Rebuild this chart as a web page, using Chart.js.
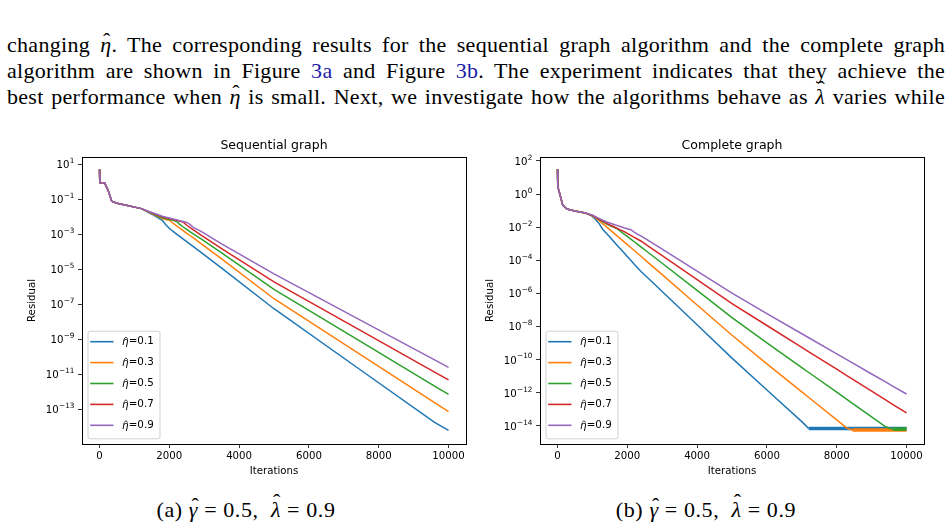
<!DOCTYPE html>
<html>
<head>
<meta charset="utf-8">
<script src="https://cdn.jsdelivr.net/npm/chart.js@4.4.1/dist/chart.umd.min.js"></script>
<style>
  html, body { margin: 0; padding: 0; background: #fff; }
  body { width: 952px; height: 527px; position: relative; overflow: hidden; font-family: "Liberation Serif", "DejaVu Serif", serif; color: #000; }
  .line { position: absolute; left: 7px; width: 938px; font-size: 22px; letter-spacing: 0.3px; line-height: 26px; text-align: justify; text-align-last: justify; white-space: nowrap; }
  .ref { color: #1c1ca8; }
  .m { font-style: italic; position: relative; display: inline-block; }
  .m::after { content: 'ˆ'; position: absolute; left: 0.12em; top: -0.2em; font-style: normal; }
  .m.tall::after { left: 0.1em; top: -0.36em; }
  .fig { position: absolute; top: 130px; width: 460px; height: 350px; }
  .caption { position: absolute; top: 497px; width: 300px; font-size: 22px; letter-spacing: 0.6px; line-height: 26px; text-align: center; white-space: nowrap; }
</style>
</head>
<body>

<div class="line" style="top:32px">changing <span class="m">η</span>. The corresponding results for the sequential graph algorithm and the complete graph</div>
<div class="line" style="top:58px">algorithm are shown in Figure <span class="ref">3a</span> and Figure <span class="ref">3b</span>. The experiment indicates that they achieve the</div>
<div class="line" style="top:84px">best performance when <span class="m">η</span> is small. Next, we investigate how the algorithms behave as <span class="m tall">λ</span> varies while</div>

<div class="fig" style="left:20px"><canvas id="seq-chart" width="460" height="350"></canvas></div>
<div class="fig" style="left:478px"><canvas id="cmp-chart" width="460" height="350"></canvas></div>

<div class="caption" style="left:96px">(a) <span class="m">γ</span> = 0.5,&nbsp; <span class="m tall">λ</span> = 0.9</div>
<div class="caption" style="left:556px">(b) <span class="m">γ</span> = 0.5,&nbsp; <span class="m tall">λ</span> = 0.9</div>

<script>
// ── DATA (residuals, stored as log10) ──────────────────────────
const etaLabels = ['η=0.1', 'η=0.3', 'η=0.5', 'η=0.7', 'η=0.9'];
const colors    = ['#1f77b4', '#ff7f0e', '#2ca02c', '#d62728', '#9467bd'];

const xTicks = [0, 2000, 4000, 6000, 8000, 10000];
const xRange = [-500, 10500];

// Sequential graph
const seqIters = [0, 10, 150, 250, 350, 500, 800, 1200, 1500, 1800, 1900, 2000, 2100, 2200, 2300, 2400, 2500, 2600, 2700, 2900, 3500, 5000, 7500, 9600, 10000];
const seqEta01 = [0.7, -0.05, -0.07, -0.5, -1.1, -1.22, -1.35, -1.53, -1.85, -2.2, -2.45, -2.65, -2.82, -2.97, -3.12, -3.27, -3.42, -3.57, -3.72, -4.02, -4.93, -7.25, -10.78, -13.74, -14.2];
const seqEta03 = [0.7, -0.05, -0.07, -0.5, -1.1, -1.22, -1.35, -1.53, -1.82, -2.1, -2.15, -2.19, -2.35, -2.5, -2.65, -2.79, -2.94, -3.08, -3.22, -3.51, -4.4, -6.68, -9.9, -12.61, -13.13];
const seqEta05 = [0.7, -0.05, -0.07, -0.5, -1.1, -1.22, -1.35, -1.53, -1.79, -2.05, -2.1, -2.15, -2.2, -2.25, -2.43, -2.58, -2.72, -2.86, -2.99, -3.25, -4.06, -6.15, -9.15, -11.67, -12.15];
const seqEta07 = [0.7, -0.05, -0.07, -0.5, -1.1, -1.22, -1.35, -1.53, -1.77, -2.0, -2.05, -2.1, -2.15, -2.2, -2.25, -2.3, -2.48, -2.62, -2.76, -3.03, -3.82, -5.72, -8.52, -10.87, -11.32];
const seqEta09 = [0.7, -0.05, -0.07, -0.5, -1.1, -1.22, -1.35, -1.53, -1.75, -1.97, -2.02, -2.07, -2.12, -2.17, -2.22, -2.27, -2.32, -2.45, -2.62, -2.82, -3.55, -5.26, -7.93, -10.17, -10.6];
const seqYTicks = [1, -1, -3, -5, -7, -9, -11, -13];
const seqYRange = [-14.98, 1.42];

// Complete graph
const cmpIters = [0, 10, 50, 150, 270, 500, 800, 1000, 1100, 1200, 1300, 1400, 1500, 1600, 1700, 1800, 1900, 2000, 2100, 2200, 2300, 2400, 2600, 3000, 4000, 5000, 6000, 7000, 7200, 8000, 8300, 8450, 9000, 9400, 9600, 10000];
const cmpEta01 = [1.5, 0.45, 0.14, -0.66, -0.9, -1.02, -1.14, -1.35, -1.55, -1.8, -2.14, -2.37, -2.6, -2.84, -3.07, -3.3, -3.53, -3.77, -4.0, -4.24, -4.47, -4.69, -5.09, -5.89, -7.9, -9.91, -11.84, -13.75, -14.17, -14.17, -14.17, -14.17, -14.17, -14.17, -14.17, -14.17];
const cmpEta03 = [1.5, 0.45, 0.14, -0.66, -0.9, -1.02, -1.14, -1.32, -1.45, -1.62, -1.8, -1.97, -2.15, -2.33, -2.51, -2.69, -2.87, -3.05, -3.23, -3.41, -3.59, -3.77, -4.14, -4.87, -6.7, -8.53, -10.26, -11.95, -12.29, -13.64, -14.15, -14.25, -14.25, -14.25, -14.25, -14.25];
const cmpEta05 = [1.5, 0.45, 0.14, -0.66, -0.9, -1.02, -1.14, -1.3, -1.42, -1.55, -1.68, -1.8, -1.9, -1.99, -2.08, -2.24, -2.4, -2.56, -2.72, -2.88, -3.04, -3.2, -3.53, -4.18, -5.82, -7.47, -8.99, -10.48, -10.78, -11.97, -12.42, -12.64, -13.46, -14.06, -14.2, -14.2];
const cmpEta07 = [1.5, 0.45, 0.14, -0.66, -0.9, -1.02, -1.14, -1.28, -1.4, -1.52, -1.64, -1.76, -1.86, -1.96, -2.06, -2.16, -2.25, -2.38, -2.5, -2.62, -2.73, -2.85, -3.14, -3.72, -5.17, -6.62, -7.94, -9.26, -9.53, -10.58, -10.98, -11.18, -11.9, -12.43, -12.7, -13.22];
const cmpEta09 = [1.5, 0.45, 0.14, -0.66, -0.9, -1.02, -1.14, -1.27, -1.38, -1.48, -1.58, -1.67, -1.75, -1.82, -1.89, -1.96, -2.03, -2.09, -2.15, -2.3, -2.43, -2.54, -2.8, -3.33, -4.66, -5.98, -7.22, -8.44, -8.68, -9.65, -10.02, -10.2, -10.87, -11.35, -11.6, -12.08];
const cmpFloorStart = [7200, 8450, 9600, null, null];   // noisy floor at machine precision
const cmpYTicks = [2, 0, -2, -4, -6, -8, -10, -12, -14];
const cmpYRange = [-15.1, 2.24];

// ── HELPERS ────────────────────────────────────────────────
const FONT = 'DejaVu Sans';
const TICK_SIZE = 10.2;

// black frame round the plot area, like matplotlib spines
const framePlugin = {
  id: 'frame',
  afterDatasetsDraw(chart) {
    const { ctx, chartArea: a } = chart;
    ctx.save();
    ctx.strokeStyle = '#000';
    ctx.lineWidth = 1;
    ctx.strokeRect(Math.round(a.left) + 0.5, Math.round(a.top) + 0.5, Math.round(a.right - a.left), Math.round(a.bottom - a.top));
    ctx.restore();
  }
};

// y tick labels as 10 with a raised exponent (mathtext look)
const powTicksPlugin = {
  id: 'powTicks',
  afterDraw(chart) {
    const { ctx, chartArea: a } = chart;
    const y = chart.scales.y;
    ctx.save();
    ctx.fillStyle = '#000';
    ctx.textAlign = 'right';
    ctx.textBaseline = 'middle';
    y.ticks.forEach(t => {
      const py = y.getPixelForValue(t.value);
      const exp = String(Math.round(Math.log10(t.value))).replace('-', '−');
      const right = a.left - 7.5;
      ctx.font = `7.3px ${FONT}`;
      ctx.fillText(exp, right, py - 3);
      const ew = ctx.measureText(exp).width;
      ctx.font = `${TICK_SIZE}px ${FONT}`;
      ctx.fillText('10', right - ew - 0.3, py + 1.3);
    });
    ctx.restore();
  }
};

// matplotlib-like legend in the lower left corner
const legendPlugin = {
  id: 'mplLegend',
  afterDraw(chart) {
    const { ctx, chartArea: a } = chart;
    const sets = chart.data.datasets;
    const boxW = 72, rowH = 20.9, boxH = 107.6;
    const x0 = a.left + 5.5, y0 = a.bottom - 5.7 - boxH;
    ctx.save();
    ctx.fillStyle = 'rgba(255,255,255,0.8)';
    ctx.strokeStyle = '#d0d0d0';
    ctx.lineWidth = 1;
    ctx.beginPath();
    ctx.roundRect(x0 + 0.5, y0 + 0.5, boxW, boxH, 2);
    ctx.fill();
    ctx.stroke();
    sets.forEach((ds, i) => {
      const cy = y0 + 11 + i * rowH;
      ctx.strokeStyle = ds.borderColor;
      ctx.lineWidth = 1.6;
      ctx.beginPath();
      ctx.moveTo(x0 + 2.7, cy);
      ctx.lineTo(x0 + 26, cy);
      ctx.stroke();

      const tx = x0 + 34.4;
      const eta = ds.label.slice(0, 1), rest = ds.label.slice(1);
      ctx.fillStyle = '#000';
      ctx.textBaseline = 'middle';
      ctx.textAlign = 'left';
      ctx.font = `italic 10.3px ${FONT}`;
      ctx.fillText(eta, tx, cy + 1);
      const w = ctx.measureText(eta).width;
      // hat over eta
      const hx = tx + w * 0.62, hy = cy - 4.2;
      ctx.strokeStyle = '#000';
      ctx.lineWidth = 0.8;
      ctx.beginPath();
      ctx.moveTo(hx - 1.9, hy + 1.4);
      ctx.lineTo(hx, hy - 0.4);
      ctx.lineTo(hx + 1.9, hy + 1.4);
      ctx.stroke();
      ctx.font = `10.3px ${FONT}`;
      ctx.fillText(rest, tx + w + 0.3, cy);
    });
    ctx.restore();
  }
};

function makeChart(canvasId, title, iters, series, yTicks, yRange, floorStart) {
  const datasets = series.map((vals, i) => ({
    label: etaLabels[i],
    data: iters.map((x, j) => ({ x, y: 10 ** vals[j] })),
    borderColor: colors[i],
    backgroundColor: colors[i],
    borderWidth: 1.5,
    pointRadius: 0,
    tension: 0,
    order: series.length - i,
    segment: {
      borderWidth: ctx => (floorStart && floorStart[i] !== null && ctx.p0.parsed.x >= floorStart[i]) ? 3.5 : 1.5
    }
  }));

  return new Chart(document.getElementById(canvasId), {
    type: 'line',
    data: { datasets },
    plugins: [framePlugin, powTicksPlugin, legendPlugin],
    options: {
      responsive: false,
      animation: false,
      events: [],
      layout: { padding: { left: 0, right: 14, top: 0, bottom: 0 } },
      plugins: {
        legend: { display: false },
        tooltip: { enabled: false },
        title: {
          display: true,
          text: title,
          fullSize: false,
          color: '#000',
          font: { family: FONT, size: 12.5, weight: 'normal' },
          padding: { top: 8, bottom: 4 }
        }
      },
      scales: {
        x: {
          type: 'linear',
          min: xRange[0],
          max: xRange[1],
          afterFit: s => { s.height = 36; },
          afterBuildTicks: s => { s.ticks = xTicks.map(v => ({ value: v })); },
          grid: { display: true, drawOnChartArea: false, drawTicks: true, tickLength: 4, color: '#000', lineWidth: 0.8 },
          border: { display: false },
          ticks: {
            color: '#000', padding: 2, maxRotation: 0, autoSkip: false,
            font: { family: FONT, size: TICK_SIZE },
            callback: v => String(v)
          },
          title: { display: true, text: 'Iterations', color: '#000', font: { family: FONT, size: TICK_SIZE }, padding: { top: 0, bottom: 3 } }
        },
        y: {
          type: 'logarithmic',
          min: 10 ** yRange[0],
          max: 10 ** yRange[1],
          afterFit: s => { s.width = 62; },
          afterBuildTicks: s => { s.ticks = yTicks.map(e => ({ value: 10 ** e })); },
          grid: { display: true, drawOnChartArea: false, drawTicks: true, tickLength: 4, color: '#000', lineWidth: 0.8 },
          border: { display: false },
          ticks: { display: false, autoSkip: false },
          title: { display: true, text: 'Residual', color: '#000', font: { family: FONT, size: TICK_SIZE }, padding: { top: 6, bottom: 0 } }
        }
      }
    }
  });
}

// ── CHARTS ─────────────────────────────────────────────────
makeChart('seq-chart', 'Sequential graph', seqIters,
  [seqEta01, seqEta03, seqEta05, seqEta07, seqEta09], seqYTicks, seqYRange, null);

makeChart('cmp-chart', 'Complete graph', cmpIters,
  [cmpEta01, cmpEta03, cmpEta05, cmpEta07, cmpEta09], cmpYTicks, cmpYRange, cmpFloorStart);
</script>
</body>
</html>
